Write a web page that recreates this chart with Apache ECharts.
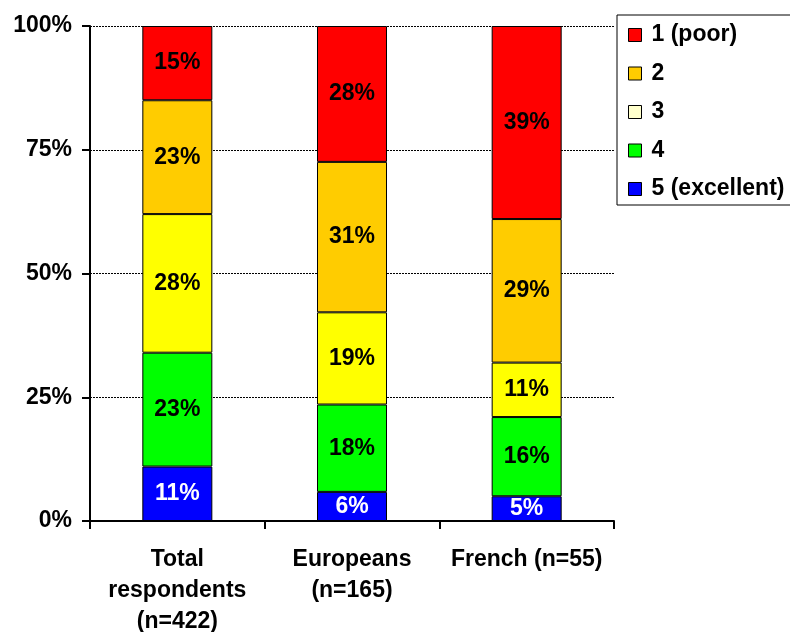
<!DOCTYPE html>
<html>
<head>
<meta charset="utf-8">
<script src="https://cdn.jsdelivr.net/npm/echarts@6/dist/echarts.min.js"></script>
<style>
  html, body { margin: 0; padding: 0; background: #ffffff; }
  #chart { width: 790px; height: 632px; }
</style>
</head>
<body>
<div id="chart"></div>
<script>
// Respondent groups on the x axis
const categories = ['Total\nrespondents\n(n=422)', 'Europeans\n(n=165)', 'French (n=55)'];

// Rating shares (%) per group, as labelled
const rating1 = [15, 28, 39]; // 1 (poor)
const rating2 = [23, 31, 29];
const rating3 = [28, 19, 11];
const rating4 = [23, 18, 16];
const rating5 = [11, 6, 5];   // 5 (excellent)

const yTicks = [0, 25, 50, 75, 100];

const seriesDefs = [
  { name: '5 (excellent)', values: rating5, color: '#0000FF', label: '#ffffff' },
  { name: '4', values: rating4, color: '#00FF00', label: '#000000' },
  { name: '3', values: rating3, color: '#FFFF00', label: '#000000', legendColor: '#FFFFCC' },
  { name: '2', values: rating2, color: '#FFCC00', label: '#000000' },
  { name: '1 (poor)', values: rating1, color: '#FF0000', label: '#000000' }
];

// Column totals, so each column stacks to 100%
const totals = categories.map((_, i) =>
  seriesDefs.reduce((s, d) => s + d.values[i], 0));

const font = 'Liberation Sans, Arial, sans-serif';

const series = seriesDefs.map(d => ({
  name: d.name,
  type: 'bar',
  stack: 'all',
  barWidth: 70,
  data: d.values.map((v, i) => ({ value: v / totals[i] * 100, raw: v })),
  itemStyle: { color: d.color, borderColor: '#000000', borderWidth: 1 },
  label: {
    show: true,
    position: 'inside',
    color: d.label,
    fontFamily: font,
    fontWeight: 'bold',
    fontSize: 23,
    formatter: p => p.data.raw + '%'
  },
  emphasis: { disabled: true }
}));

const legendOrder = ['1 (poor)', '2', '3', '4', '5 (excellent)'];

const chart = echarts.init(document.getElementById('chart'), null, { renderer: 'canvas' });
chart.setOption({
  animation: false,
  backgroundColor: '#ffffff',
  grid: { left: 90, right: 176, top: 26, bottom: 111, containLabel: false, outerBoundsMode: 'none' },
  legend: {
    orient: 'vertical',
    left: 617,
    top: 15,
    padding: [8, 20, 4, 11],
    borderColor: '#000000',
    borderWidth: 1,
    itemWidth: 13,
    itemHeight: 13,
    itemGap: 14.5,
    icon: 'rect',
    selectedMode: false,
    textStyle: {
      fontFamily: font, fontWeight: 'bold', fontSize: 23, color: '#000000',
      lineHeight: 24, padding: [0, 0, 0, 5]
    },
    data: legendOrder.map(n => {
      const d = seriesDefs.find(s => s.name === n);
      return { name: n, itemStyle: { color: d.legendColor || d.color, borderColor: '#000000', borderWidth: 1 } };
    })
  },
  xAxis: {
    type: 'category',
    data: categories,
    axisLine: { lineStyle: { color: '#000000', width: 2 } },
    axisTick: { show: true, length: 8, lineStyle: { color: '#000000', width: 2 } },
    axisLabel: {
      interval: 0,
      margin: 23,
      color: '#000000',
      fontFamily: font,
      fontWeight: 'bold',
      fontSize: 23,
      lineHeight: 31
    }
  },
  yAxis: {
    type: 'value',
    min: yTicks[0],
    max: yTicks[yTicks.length - 1],
    interval: 25,
    axisLine: { show: true, lineStyle: { color: '#000000', width: 2 } },
    axisTick: { show: true, length: 8, lineStyle: { color: '#000000', width: 2 } },
    axisLabel: {
      margin: 18,
      color: '#000000',
      fontFamily: font,
      fontWeight: 'bold',
      fontSize: 23,
      formatter: v => v + '%'
    },
    splitLine: { show: true, lineStyle: { color: '#000000', width: 1, type: [2, 1] } }
  },
  series: series
});
</script>
</body>
</html>
